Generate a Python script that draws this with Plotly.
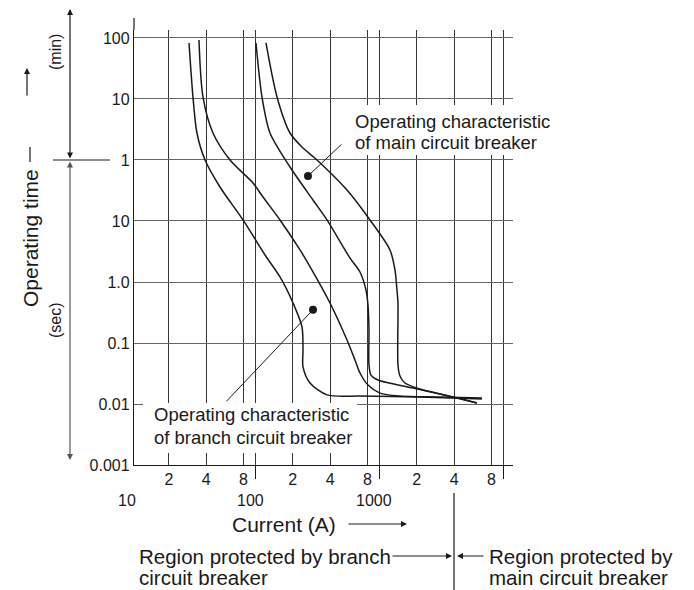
import numpy as np
import plotly.graph_objects as go

# Operating time uses the chart's own stacked scale:
# 0.001 .. 10 are seconds, 100 / 1000 / 10000 stand for 1 / 10 / 100 minutes
time_ticks = [0.001, 0.01, 0.1, 1, 10, 100, 1000, 10000]
time_labels = ["0.001", "0.01", "0.1", "1.0", "10", "1", "10", "100"]

current_grid = [20, 40, 80, 100, 200, 400, 800, 1000, 2000, 4000, 8000, 10000]
current_labels = ["2", "4", "8", "", "2", "4", "8", "", "2", "4", "8", ""]
decade_ticks = [100, 1000, 10000]
decade_labels = [10, 100, 1000]

# branch circuit breaker (lower / upper edge of the band)
branch_lo_current = [29.1, 31.3, 33.7, 39.2, 51.7, 79.3, 119.3, 157.6, 200.7, 237.1,
                     241.6, 241.6, 275.1, 377.3, 696.2, 2121, 6708]
branch_lo_time = [8280, 1080, 277, 100, 36.1, 10.4, 2.77, 1.21, 0.453, 0.183,
                  0.0767, 0.0405, 0.0221, 0.0141, 0.0135, 0.0130, 0.0121]

branch_hi_current = [35.0, 37.7, 45.4, 62.3, 95.5, 114.9, 157.6, 228.6, 285.5, 398.8,
                     547.1, 634.6, 696.2, 807.8, 1009, 1463, 3075, 6708]
branch_hi_time = [9270, 1080, 277, 100, 42.0, 24.7, 10.4, 3.35, 1.57, 0.453,
                  0.112, 0.0526, 0.0322, 0.0205, 0.0151, 0.0135, 0.0130, 0.0125]

# main circuit breaker
main_lo_current = [100.9, 112.8, 130.9, 189.8, 290.9, 377.3, 578.5, 696.2, 778.3, 807.8,
                   822.9, 822.9, 854.1, 972.5, 1863, 3914, 6114]
main_lo_time = [8280, 1080, 277, 76.8, 22.1, 10.4, 2.47, 1.46, 0.740, 0.420,
                0.163, 0.0436, 0.0298, 0.0247, 0.0183, 0.0130, 0.0104]

main_hi_current = [121.5, 149.1, 189.8, 237.1, 313.3, 547.1, 838.3, 1215, 1334, 1384,
                   1410, 1410, 1463, 1606, 2121, 3914, 6114]
main_hi_time = [8280, 1080, 277, 163, 100, 32.2, 10.4, 3.35, 1.57, 0.740,
                0.453, 0.0436, 0.0288, 0.0221, 0.0176, 0.0130, 0.0104]

# label pointer dots (main, branch)
dot_current = [265, 291]
dot_time = [54.7, 0.35]

FONT = "Liberation Sans, Arial, Helvetica, sans-serif"
INK = "#1a1a1a"

# page body adds an 8px offset, so the figure is drawn 8px smaller
OFF = 8
W, H = 694 - OFF, 590 - OFF
# plot box in page pixels: x 134..513, y 30..465
L, R, T, B = 134, 513, 30, 465


def px(x):
    return (x - L) / (R - L)


def py(y):
    return (B - y) / (B - T)


fig = go.Figure()
for xs, ys in [(branch_lo_current, branch_lo_time), (branch_hi_current, branch_hi_time),
               (main_lo_current, main_lo_time), (main_hi_current, main_hi_time)]:
    fig.add_trace(go.Scatter(x=xs, y=ys, mode="lines",
                             line=dict(color=INK, width=1.5, shape="spline", smoothing=0.8),
                             hoverinfo="skip"))

fig.add_trace(go.Scatter(x=dot_current, y=dot_time, mode="markers", xaxis="x2",
                         marker=dict(color=INK, size=8), hoverinfo="skip"))

xr = [1.02, 4.077]
yr = [-3, 4.131]

fig.update_layout(
    width=W, height=H,
    margin=dict(l=L - OFF, r=W - (R - OFF), t=T - OFF, b=H - (B - OFF)),
    paper_bgcolor="white", plot_bgcolor="white",
    showlegend=False,
    font=dict(family=FONT, color=INK),
    xaxis=dict(type="log", range=xr, tickvals=current_grid, ticktext=current_labels,
               showgrid=True, gridcolor="#333", gridwidth=1.2, zeroline=False,
               showline=True, linecolor=INK, linewidth=1.3, ticks="",
               tickfont=dict(size=16)),
    xaxis2=dict(type="log", range=xr, overlaying="x", anchor="y", side="bottom",
                tickvals=decade_ticks, ticks="outside", ticklen=13, tickwidth=1.2,
                tickcolor=INK, showticklabels=False, showgrid=False, zeroline=False),
    yaxis=dict(type="log", range=yr, tickvals=time_ticks, ticktext=time_labels,
               showgrid=True, gridcolor="#666", gridwidth=1.2, zeroline=False,
               showline=True, linecolor=INK, linewidth=1.3, ticks="",
               tickfont=dict(size=16)),
)


def text(x, y, s, size, xa="center", ya="middle", **kw):
    return dict(x=x, y=y, xref="paper", yref="paper", text=s, showarrow=False,
                xanchor=xa, yanchor=ya, font=dict(size=size), **kw)


ann = []
# decade labels under the 2-4-8 row
for d in decade_labels:
    xpos = (np.log10(d) - xr[0]) / (xr[1] - xr[0])
    ann.append(text(xpos, py(500), str(d), 16, xshift=-5))

# curve labels (white boxes behind them are shapes below)
ann.append(text(px(353), py(121), "Operating characteristic", 18.5, xa="left"))
ann.append(text(px(353), py(142), "of main circuit breaker", 18.5, xa="left"))
ann.append(text(px(152), py(414), "Operating characteristic", 18.5, xa="left"))
ann.append(text(px(152), py(437), "of branch circuit breaker", 18.5, xa="left"))

# leader lines from the dots
ann.append(dict(x=np.log10(dot_current[0]), y=np.log10(dot_time[0]), xref="x", yref="y",
                text="", showarrow=True, arrowhead=0, arrowwidth=1, arrowcolor=INK,
                ax=35, ay=-33))
ann.append(dict(x=np.log10(dot_current[1]), y=np.log10(dot_time[1]), xref="x", yref="y",
                text="", showarrow=True, arrowhead=0, arrowwidth=1, arrowcolor=INK,
                ax=-88, ay=93))

# axis titles and helper text
ann.append(text(px(30), py(238), "Operating time", 21, textangle=-90))
ann.append(text(px(55), py(52), "(min)", 16, textangle=-90))
ann.append(text(px(55), py(320), "(sec)", 16, textangle=-90))
ann.append(text(px(284), py(524), "Current (A)", 21))
ann.append(text(px(137), py(556), "Region protected by branch", 20.5, xa="left"))
ann.append(text(px(137), py(577), "circuit breaker", 20.5, xa="left"))
ann.append(text(px(487), py(556), "Region protected by", 20.5, xa="left"))
ann.append(text(px(487), py(577), "main circuit breaker", 20.5, xa="left"))

arrows = [
    # head x, head y, tail dx, tail dy, both ends, colour
    (27, 68, 0, 29, False, INK),
    (70, 9, 0, 151, True, INK),
    (70, 460, 0, -300, True, "#555"),
    (407, 524, -60, 0, False, INK),
    (452, 556, -61, 0, False, INK),
    (457, 556, 28, 0, False, INK),
]
for hx, hy, dx, dy, both, col in arrows:
    ann.append(dict(x=px(hx), y=py(hy), xref="paper", yref="paper", text="",
                    showarrow=True, arrowhead=2, arrowsize=1, arrowwidth=1.2,
                    arrowcolor=col, ax=dx, ay=dy,
                    arrowside="end+start" if both else "end"))
fig.update_layout(annotations=ann)

# white patches that break the grid behind the two curve labels
for x0, y0, x1, y1 in [(347, 105, 560, 155), (143, 403, 357, 453)]:
    fig.add_shape(type="rect", xref="paper", yref="paper", layer="above",
                  x0=px(x0), y0=py(y0), x1=px(x1), y1=py(y1),
                  fillcolor="white", line=dict(width=0))

lines = [
    (L, T, L, 18),        # y axis runs a bit above the grid
    (53, 160, 110, 160),  # min / sec divider
    (30, 147, 30, 162),   # dash after "Operating time"
    (454, 493, 454, 590), # branch / main region divider
]
for x0, y0, x1, y1 in lines:
    fig.add_shape(type="line", xref="paper", yref="paper",
                  x0=px(x0), y0=py(y0), x1=px(x1), y1=py(y1),
                  line=dict(color=INK, width=1.2))

fig.write_html("out.html")
